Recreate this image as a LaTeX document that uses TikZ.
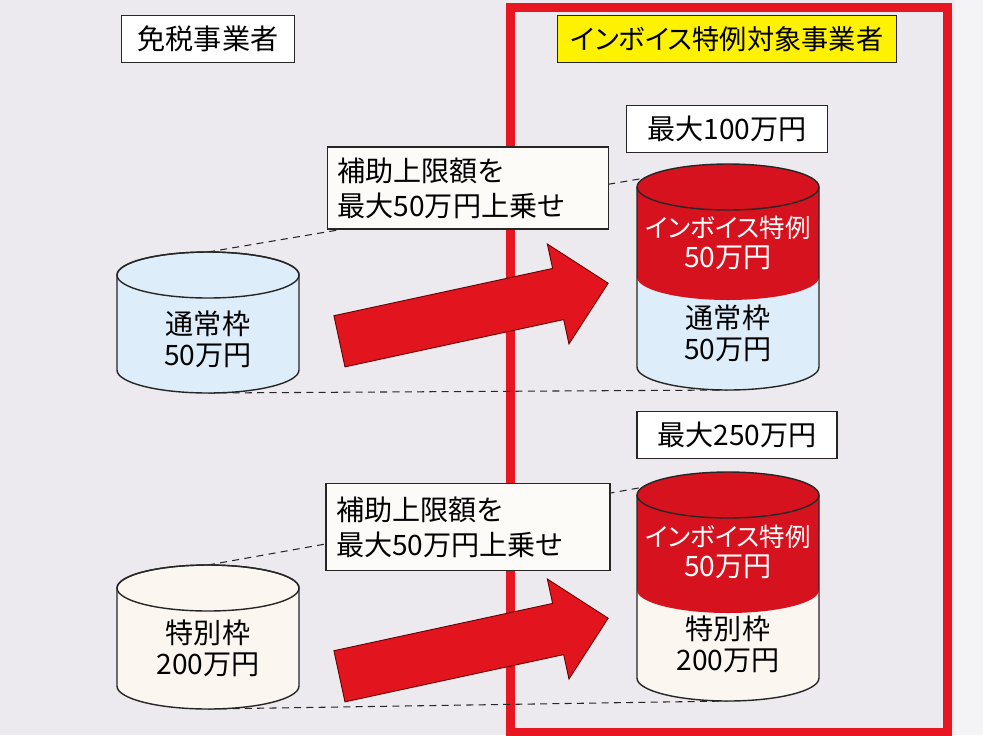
\documentclass[tikz,border=0pt]{standalone}
\usepackage{fontspec}
\setmainfont{Noto Sans CJK JP}[RawFeature=+palt]
\usepackage{tikz}
\usetikzlibrary{shapes,positioning,calc}

\definecolor{paper}{RGB}{236,234,238}
\definecolor{framered}{RGB}{232,22,32}
\definecolor{arrowred}{RGB}{226,20,30}
\definecolor{drumred}{RGB}{214,18,30}
\definecolor{normblue}{RGB}{221,238,250}
\definecolor{specream}{RGB}{252,246,241}
\definecolor{notefill}{RGB}{253,251,248}
\definecolor{tagyellow}{RGB}{255,242,0}

% drum: centre x, top y, bottom y, fill
\newcommand{\drum}[4]{%
	\filldraw[fill=#4,draw=black!85,line width=0.8pt] (#1-91,#2) -- (#1-91,#3)
		arc[start angle=180,end angle=360,x radius=1.82cm,y radius=0.46cm]
		-- (#1+91,#2) arc[start angle=0,end angle=180,x radius=1.82cm,y radius=0.46cm] -- cycle;
	\draw[black!85,line width=0.8pt] (#1,#2) ellipse[x radius=1.82cm,y radius=0.46cm];
}
% drum with red top part: centre x, top y, split y, bottom y, lower fill
\newcommand{\splitdrum}[5]{%
	\fill[#5] (#1-91,#2) -- (#1-91,#4)
		arc[start angle=180,end angle=360,x radius=1.82cm,y radius=0.46cm] -- (#1+91,#2) -- cycle;
	\fill[drumred] (#1-91,#2) -- (#1-91,#3)
		arc[start angle=180,end angle=360,x radius=1.82cm,y radius=0.46cm]
		-- (#1+91,#2) arc[start angle=0,end angle=180,x radius=1.82cm,y radius=0.46cm] -- cycle;
	\draw[black!85,line width=0.8pt] (#1-91,#2) -- (#1-91,#4)
		arc[start angle=180,end angle=360,x radius=1.82cm,y radius=0.46cm] -- (#1+91,#2);
	\draw[black!85,line width=0.8pt] (#1,#2) ellipse[x radius=1.82cm,y radius=0.46cm];
}

\begin{document}
\begin{tikzpicture}[x=0.02cm,y=-0.02cm,
		every node/.style={font=\fontsize{16pt}{17.5pt}\selectfont},
		tagbox/.style={draw=black!85,line width=0.8pt,fill=white,minimum height=0.95cm,inner sep=0pt},
		notebox/.style={draw=black!85,line width=0.8pt,fill=notefill,align=left,inner sep=0pt,
			font=\fontsize{16pt}{20pt}\selectfont},
		drumtext/.style={align=center,inner sep=0pt},
		invtext/.style={drumtext,text=white,font=\fontsize{14.5pt}{17.5pt}\selectfont},
		bigarrow/.style={single arrow,fill=arrowred,draw=black!60!red,line width=0.5pt,
			inner xsep=0pt,inner ysep=0.515cm,
			minimum height=5.5cm,single arrow head extend=0.5cm,single arrow tip angle=90}]
		\useasboundingbox (0,0) rectangle (983,735);
		\fill[paper] (0,0) rectangle (983,735);
		\fill[paper!60!white] (955,0) rectangle (983,735);
		\draw[framered,line width=0.18cm] (510,7) rectangle (947,732);

		% levels
		\coordinate (normtop) at (208,252);
		\coordinate (normbot) at (208,393);
		\coordinate (invAtop) at (728,164);
		\coordinate (invAbot) at (728,390);
		\coordinate (spetop) at (208,565);
		\coordinate (spebot) at (208,709);
		\coordinate (invBtop) at (728,472);
		\coordinate (invBbot) at (728,701);
		\path[dash pattern=on 4pt off 3pt,line width=0.6pt,black!85]
			(normtop) edge (invAtop)
			(normbot) edge (invAbot)
			(spetop) edge (invBtop)
			(spebot) edge (invBbot);

		\drum{208}{275}{370}{normblue}
		\drum{208}{588}{686}{specream}
		\splitdrum{728}{187}{277}{367}{normblue}
		\splitdrum{728}{495}{590}{678}{specream}

		\node[drumtext] (norm) at (208,339) {通常枠\\50万円};
		\node[drumtext] (spe) at (208,648) {特別枠\\200万円};
		\node[invtext] (invA) at (728,243) {インボイス特例\\\fontsize{16pt}{17.5pt}\selectfont 50万円};
		\node[drumtext] (normA) at (728,333) {通常枠\\50万円};
		\node[invtext] (invB) at (728,552) {インボイス特例\\\fontsize{16pt}{17.5pt}\selectfont 50万円};
		\node[drumtext] (speB) at (728,644) {特別枠\\200万円};

		\node[bigarrow,rotate=12.2] (upA) at (461,315) {};
		\node[bigarrow,rotate=12.2] (upB) at (461,650) {};

		\node[notebox,minimum width=5.62cm,minimum height=1.64cm,text width=5.22cm] (addA) at (468,188) {補助上限額を\\最大50万円上乗せ};
		\node[notebox,minimum width=5.68cm,minimum height=1.74cm,text width=5.28cm] (addB) at (468,527) {補助上限額を\\最大50万円上乗せ};

		\node[tagbox,minimum width=3.46cm] (exempt) at (208,39) {免税事業者};
		\node[tagbox,minimum width=6.78cm,fill=tagyellow,font=\fontsize{15.5pt}{17.5pt}\selectfont] (target) at (727,39) {インボイス特例対象事業者};
		\node[tagbox,minimum width=4.02cm] (maxA) at (727,129) {最大100万円};
		\node[tagbox,minimum width=4.0cm] (maxB) at (737,435) {最大250万円};
	\end{tikzpicture}
\end{document}
